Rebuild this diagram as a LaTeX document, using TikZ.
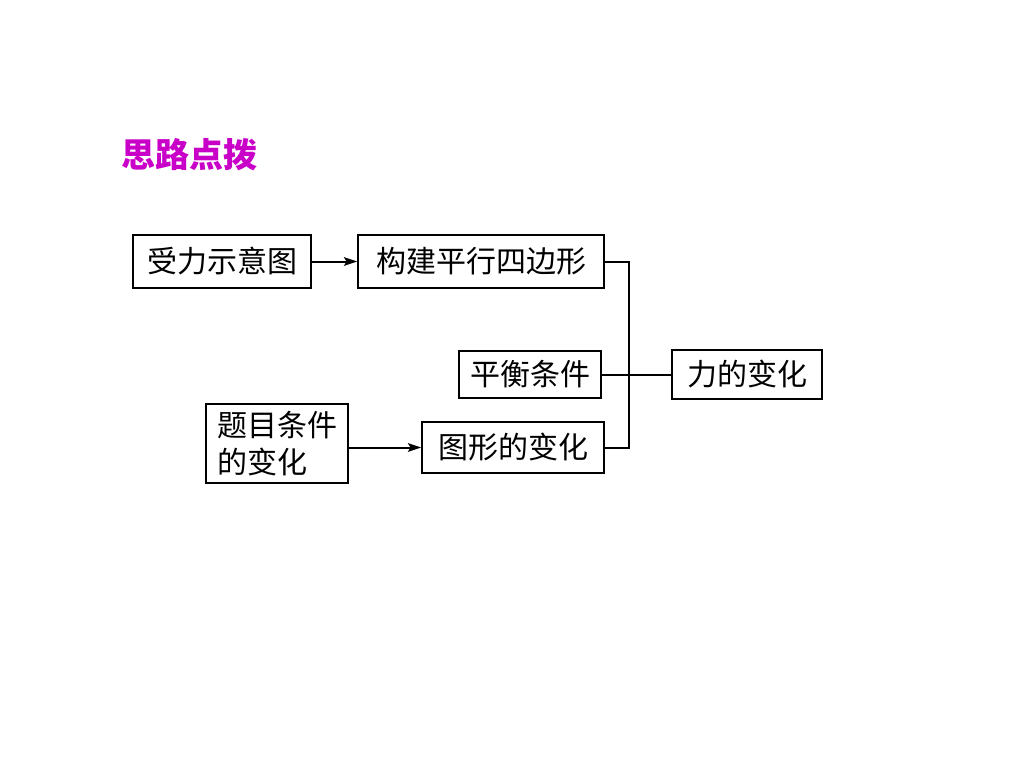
\documentclass[tikz,border=0pt]{standalone}
\usepackage{fontspec}
\newfontfamily\cjk{Noto Sans CJK SC}
\usetikzlibrary{arrows.meta}
\definecolor{cT}{RGB}{200,0,200}
\tikzset{mybox/.style={
  shape=rectangle,
  draw=black,
  line width=1.1pt,
  inner sep=0pt,
  font=\cjk\fontsize{22.5}{28}\selectfont,
  }
}
\tikzset{myarrow/.style={
  line width=1.5pt,
  -{Stealth[length=10pt,width=6.5pt,inset=2pt]},
  }
}
\tikzset{myline/.style={
  line width=1.5pt,
  }
}

\begin{document}
\begin{tikzpicture}[x=0.75pt,y=-0.75pt]
  \useasboundingbox (0,0) rectangle (1024,768);
  \node [font=\cjk\bfseries\fontsize{25.5}{30}\selectfont, text=cT, anchor=west] (title) at (117,155) {思路点拨};

  \node [mybox, minimum width=133.5pt, minimum height=40pt] (shouli) at (222,261.5) {受力示意图};
  \node [mybox, minimum width=184.5pt, minimum height=40pt] (goujian) at (481,261.5) {构建平行四边形};
  \node [mybox, minimum width=106.5pt, minimum height=35pt] (pingheng) at (530,374.5) {平衡条件};
  \node [mybox, minimum width=112.5pt, minimum height=37pt] (lihua) at (747,374.5) {力的变化};
  \node [mybox, minimum width=106.5pt, minimum height=59pt, align=left] (timu) at (277,443.5) {题目条件\\的变化};
  \node [mybox, minimum width=136.5pt, minimum height=38pt] (tuxing) at (513,447.5) {图形的变化};
  \coordinate (j) at (629,374.5);

  \draw [myarrow] (shouli) -- (goujian);
  \draw [myarrow] (timu.east |- tuxing.west) -- (tuxing.west);
  \draw [myline] (goujian.east) -| (j) |- (tuxing.east);
  \draw [myline] (pingheng.east) -- (lihua.west);
\end{tikzpicture}
\end{document}
